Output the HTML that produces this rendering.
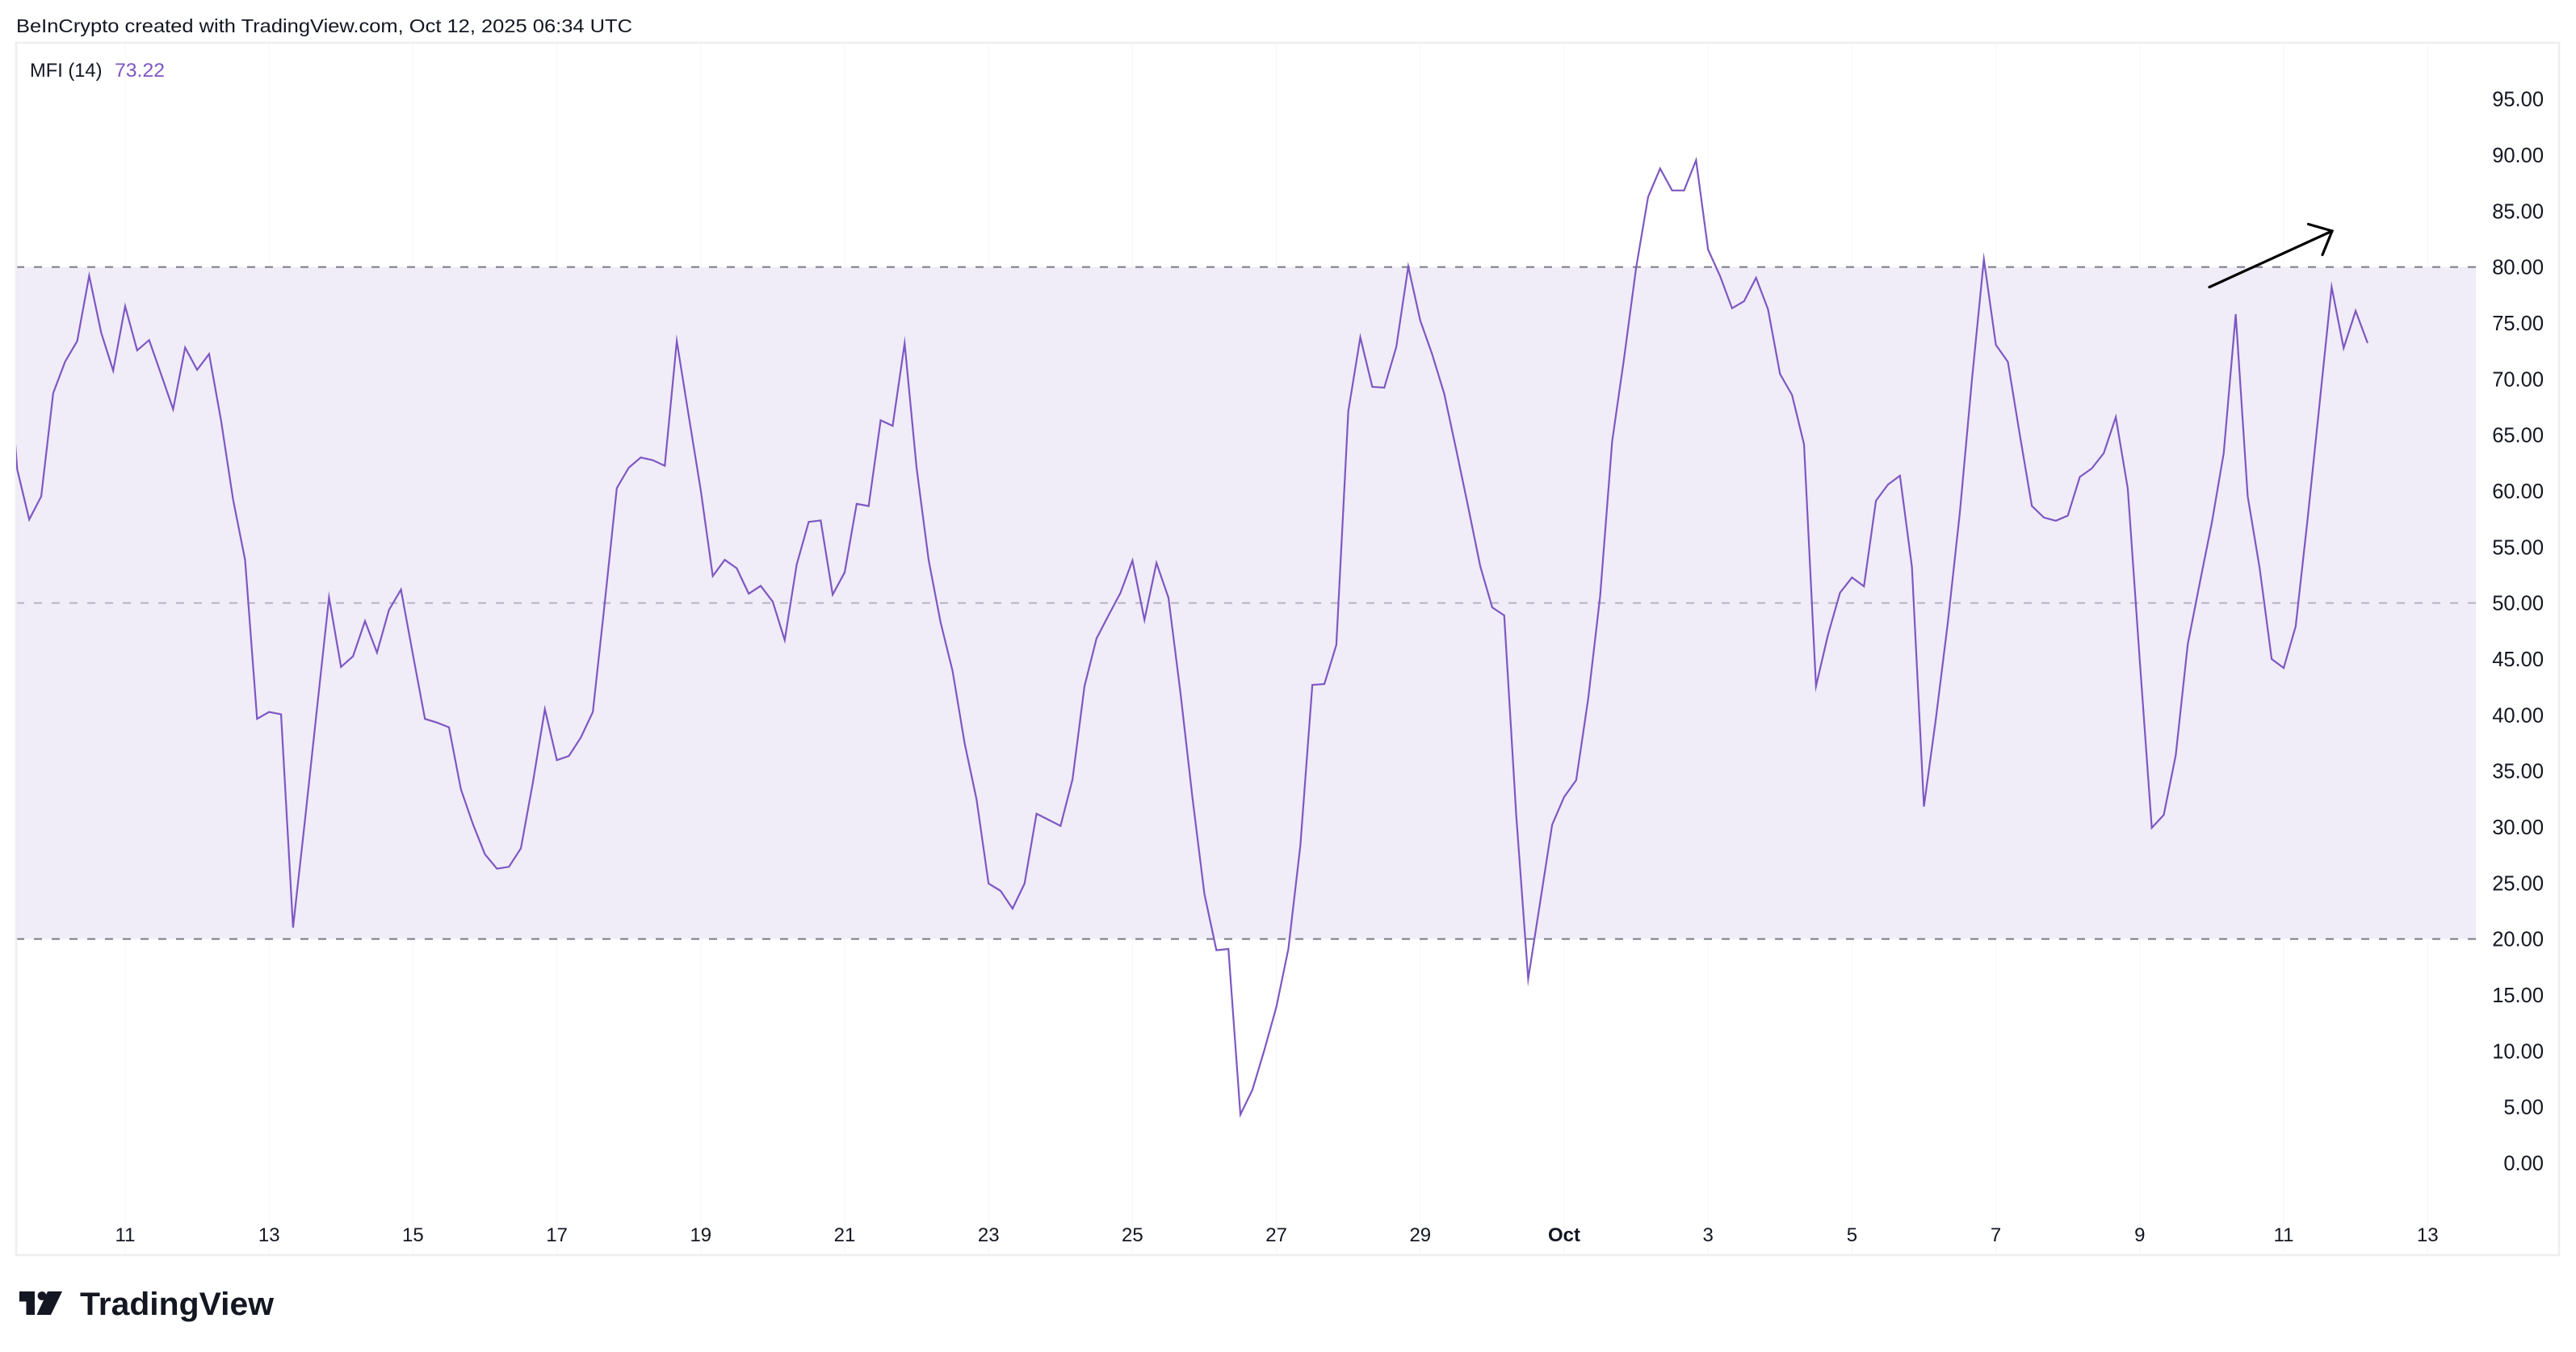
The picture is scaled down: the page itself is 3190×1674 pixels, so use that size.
<!DOCTYPE html>
<html>
<head>
<meta charset="utf-8">
<style>
  html, body { margin:0; padding:0; background:#ffffff; }
  svg { display:block; }
  text { font-family: "Liberation Sans", "DejaVu Sans", sans-serif; }
</style>
</head>
<body>
<svg width="3190" height="1674" viewBox="0 0 3190 1674" xmlns="http://www.w3.org/2000/svg">
  <rect x="0" y="0" width="3190" height="1674" fill="#ffffff"/>

  <!-- Header -->
  <text x="20" y="40" font-size="23" fill="#131722" textLength="763" lengthAdjust="spacingAndGlyphs">BeInCrypto created with TradingView.com, Oct 12, 2025 06:34 UTC</text>

  <!-- faint vertical gridlines -->
  <g stroke="#f8f8f9" stroke-width="1.5">
    <line x1="155" y1="54" x2="155" y2="1553"/>
    <line x1="333.2" y1="54" x2="333.2" y2="1553"/>
    <line x1="511.4" y1="54" x2="511.4" y2="1553"/>
    <line x1="689.6" y1="54" x2="689.6" y2="1553"/>
    <line x1="867.8" y1="54" x2="867.8" y2="1553"/>
    <line x1="1046" y1="54" x2="1046" y2="1553"/>
    <line x1="1224.2" y1="54" x2="1224.2" y2="1553"/>
    <line x1="1402.4" y1="54" x2="1402.4" y2="1553"/>
    <line x1="1580.6" y1="54" x2="1580.6" y2="1553"/>
    <line x1="1758.8" y1="54" x2="1758.8" y2="1553"/>
    <line x1="1937" y1="54" x2="1937" y2="1553"/>
    <line x1="2115.2" y1="54" x2="2115.2" y2="1553"/>
    <line x1="2293.4" y1="54" x2="2293.4" y2="1553"/>
    <line x1="2471.6" y1="54" x2="2471.6" y2="1553"/>
    <line x1="2649.8" y1="54" x2="2649.8" y2="1553"/>
    <line x1="2828" y1="54" x2="2828" y2="1553"/>
    <line x1="3006.2" y1="54" x2="3006.2" y2="1553"/>
  </g>

  <!-- Band shading 20-80 -->
  <rect x="20" y="330.6" width="3046" height="832" fill="#f0ecf8"/>

  <!-- band lines -->
  <line x1="20" y1="330.6" x2="3066" y2="330.6" stroke="#787b86" stroke-width="2" stroke-dasharray="10 12"/>
  <line x1="20" y1="746.6" x2="3066" y2="746.6" stroke="#b7b3c4" stroke-width="2" stroke-dasharray="10 12"/>
  <line x1="20" y1="1162.6" x2="3066" y2="1162.6" stroke="#787b86" stroke-width="2" stroke-dasharray="10 12"/>

  <!-- frame -->
  <rect x="20" y="53" width="3149" height="1501" fill="none" stroke="#eeeef1" stroke-width="2.5"/>

  <defs>
    <clipPath id="plot">
      <rect x="20" y="53" width="3046" height="1501"/>
    </clipPath>
  </defs>

  <!-- MFI line -->
  <polyline clip-path="url(#plot)" fill="none" stroke="#7e57c2" stroke-width="2.2" stroke-linejoin="miter" stroke-miterlimit="10"
    points="6.5,390 21.35,581.3 36.2,643.3 51.05,614.6 65.9,486.6 80.75,447.5 95.6,422.3 110.45,341.3 125.3,411.9 140.15,459 155,379.2 169.85,433.8 184.7,421.1 199.55,463.6 214.4,506.7 229.25,430.3 244.1,457.9 258.95,438.3 273.8,521 288.65,618.6 303.5,693.2 318.35,890.1 333.2,881.5 348.05,884.4 362.9,1148.5 377.75,1014.7 392.6,876.9 407.45,739.7 422.3,825.8 437.15,812.6 452,769 466.85,808 481.7,755.2 496.55,730 511.4,810.9 526.25,890.1 541.1,894.7 555.95,900.5 570.8,977.4 585.65,1020.4 600.5,1057.7 615.35,1075.6 630.2,1073.3 645.05,1050.3 659.9,968.8 674.75,878.1 689.6,941.2 704.45,936.1 719.3,913.1 734.15,881.5 749,745.5 763.85,604.3 778.7,579 793.55,566.4 808.4,569.8 823.25,576.7 838.1,422.3 852.95,515.3 867.8,607.1 882.65,713.3 897.5,693.2 912.35,703.6 927.2,735.1 942.05,725.4 956.9,744.9 971.75,792.5 986.6,699 1001.45,646.2 1016.3,644.4 1031.15,736.3 1046,708.7 1060.85,623.8 1075.7,626.6 1090.55,520.4 1105.4,527.3 1120.25,425.1 1135.1,579.6 1149.95,693.2 1164.8,770.7 1179.65,831 1194.5,920 1209.35,990 1224.2,1094 1239.05,1103 1253.9,1125 1268.75,1094 1283.6,1007.5 1298.45,1015 1313.3,1022.6 1328.15,965 1343,849.6 1357.85,790.6 1372.7,762 1387.55,734 1402.4,694 1417.25,767.5 1432.1,697 1446.95,740 1461.8,857.6 1476.65,987.5 1491.5,1107 1506.35,1176.5 1521.2,1175 1536.05,1380 1550.9,1349.5 1565.75,1300 1580.6,1246.7 1595.45,1175 1610.3,1047 1625.15,848 1640,847 1654.85,798.6 1669.7,509 1684.55,417.6 1699.4,479 1714.25,480 1729.1,429.5 1743.95,330 1758.8,397 1773.65,439 1788.5,487.7 1803.35,557 1818.2,628 1833.05,701 1847.9,752 1862.75,762 1877.6,1009 1892.45,1212 1907.3,1116.7 1922.15,1021 1937,986.7 1951.85,966 1966.7,865.6 1981.55,738 1996.4,546.7 2011.25,443 2026.1,331.5 2040.95,243.8 2055.8,208.7 2070.65,235.8 2085.5,235.8 2100.35,198.3 2115.2,309 2130.05,341.8 2144.9,381.7 2159.75,373 2174.6,344 2189.45,383 2204.3,463 2219.15,489 2234,550 2248.85,849.6 2263.7,786 2278.55,734 2293.4,715 2308.25,726 2323.1,620 2337.95,600 2352.8,589 2367.65,702 2382.5,998.7 2397.35,889.5 2412.2,770 2427.05,634 2441.9,471 2456.75,321 2471.6,427 2486.45,448 2501.3,538.7 2516.15,626.4 2531,640.8 2545.85,644.8 2560.7,638.4 2575.55,590.5 2590.4,580 2605.25,561 2620.1,516.4 2634.95,605 2649.8,817.8 2664.65,1025 2679.5,1009 2694.35,935 2709.2,797.8 2724.05,722 2738.9,648 2753.75,561 2768.6,389 2783.45,614.5 2798.3,703.8 2813.15,816 2828,827 2842.85,775.5 2857.7,642 2872.55,499 2887.4,355.4 2902.25,431 2917.1,385 2931.95,424.7"/>

  <!-- Arrow annotation -->
  <g stroke="#000000" stroke-width="3.2" stroke-linecap="round" fill="none">
    <line x1="2736" y1="355.5" x2="2888" y2="286"/>
    <polyline points="2858.5,277.5 2888,286 2876,315.5"/>
  </g>

  <!-- Legend -->
  <text x="37" y="95" font-size="24.5" fill="#131722" textLength="89.5" lengthAdjust="spacingAndGlyphs">MFI (14)</text>
  <text x="142" y="95" font-size="24.5" fill="#7e57c2" textLength="62" lengthAdjust="spacingAndGlyphs">73.22</text>

  <!-- Y axis labels -->
  <g font-size="25.5" fill="#131722" text-anchor="end">
    <text x="3150" y="131.7">95.00</text>
    <text x="3150" y="201.1">90.00</text>
    <text x="3150" y="270.4">85.00</text>
    <text x="3150" y="339.7">80.00</text>
    <text x="3150" y="409.1">75.00</text>
    <text x="3150" y="478.4">70.00</text>
    <text x="3150" y="547.7">65.00</text>
    <text x="3150" y="617.1">60.00</text>
    <text x="3150" y="686.4">55.00</text>
    <text x="3150" y="755.7">50.00</text>
    <text x="3150" y="825.1">45.00</text>
    <text x="3150" y="894.4">40.00</text>
    <text x="3150" y="963.7">35.00</text>
    <text x="3150" y="1033.1">30.00</text>
    <text x="3150" y="1102.4">25.00</text>
    <text x="3150" y="1171.7">20.00</text>
    <text x="3150" y="1241.1">15.00</text>
    <text x="3150" y="1310.4">10.00</text>
    <text x="3150" y="1379.7">5.00</text>
    <text x="3150" y="1449.1">0.00</text>
  </g>

  <!-- X axis labels -->
  <g font-size="24" fill="#131722" text-anchor="middle">
    <text x="155" y="1537">11</text>
    <text x="333.2" y="1537">13</text>
    <text x="511.4" y="1537">15</text>
    <text x="689.6" y="1537">17</text>
    <text x="867.8" y="1537">19</text>
    <text x="1046" y="1537">21</text>
    <text x="1224.2" y="1537">23</text>
    <text x="1402.4" y="1537">25</text>
    <text x="1580.6" y="1537">27</text>
    <text x="1758.8" y="1537">29</text>
    <text x="1937" y="1537" font-weight="bold">Oct</text>
    <text x="2115.2" y="1537">3</text>
    <text x="2293.4" y="1537">5</text>
    <text x="2471.6" y="1537">7</text>
    <text x="2649.8" y="1537">9</text>
    <text x="2828" y="1537">11</text>
    <text x="3006.2" y="1537">13</text>
  </g>

  <!-- TradingView logo -->
  <g fill="#131722">
    <rect x="24" y="1599" width="19" height="12.5"/>
    <rect x="32.5" y="1599" width="10.5" height="29"/>
    <circle cx="52" cy="1604.5" r="5.4"/>
    <polygon points="59,1599 77,1599 63,1628 45.5,1628"/>
  </g>
  <text x="99" y="1628" font-size="40" font-weight="bold" fill="#131722" textLength="240" lengthAdjust="spacingAndGlyphs">TradingView</text>
</svg>
</body>
</html>
